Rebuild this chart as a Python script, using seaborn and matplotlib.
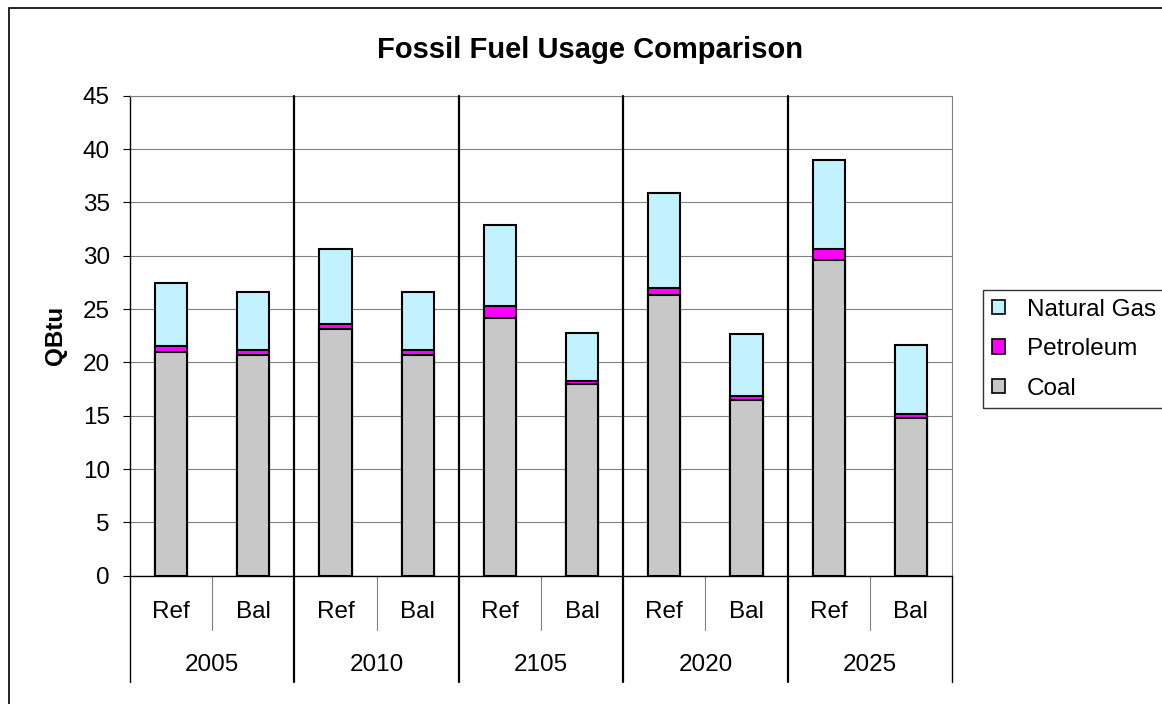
import matplotlib
matplotlib.use("Agg")
import matplotlib.pyplot as plt
import matplotlib.transforms as mtrans
from matplotlib.patches import Patch, Rectangle
import numpy as np
import pandas as pd
import seaborn as sns

# ---- data (QBtu) ----
years = ["2005", "2010", "2105", "2020", "2025"]
scenarios = ["Ref", "Bal"]
coal = [21.0, 20.7, 23.1, 20.7, 24.2, 17.95, 26.3, 16.45, 29.6, 14.75]
petroleum = [0.55, 0.45, 0.5, 0.45, 1.05, 0.35, 0.7, 0.4, 1.0, 0.4]
natural_gas = [5.85, 5.45, 7.0, 5.45, 7.65, 4.5, 8.9, 5.85, 8.4, 6.45]

series_names = ["Natural Gas", "Petroleum", "Coal"]
colors = {"Natural Gas": "#C2F2FF", "Petroleum": "#FF00FF", "Coal": "#C8C8C8"}

cats = [f"{y} {s}" for y in years for s in scenarios]
df = pd.DataFrame({
    "cat": cats,
    "coal": coal,
    "petroleum": petroleum,
    "natural_gas": natural_gas,
})
df["coal_pet"] = df["coal"] + df["petroleum"]
df["total"] = df["coal_pet"] + df["natural_gas"]

sns.set_theme(style="white")
plt.rcParams["font.family"] = ["Liberation Sans", "DejaVu Sans"]

W, H = 1162, 704
fig = plt.figure(figsize=(W / 100, H / 100), dpi=100)
fig.patch.set_facecolor("white")

x0, x1, ytop, ybot = 130, 952, 95.7, 575.7
ax = fig.add_axes([x0 / W, 1 - ybot / H, (x1 - x0) / W, (ybot - ytop) / H])

# stacked bars: draw cumulative heights from the top layer down
bar_kw = dict(order=cats, saturation=1, width=0.39, edgecolor="black",
              linewidth=1.5, errorbar=None, ax=ax)
sns.barplot(data=df, x="cat", y="total", color=colors["Natural Gas"], **bar_kw)
sns.barplot(data=df, x="cat", y="coal_pet", color=colors["Petroleum"], **bar_kw)
sns.barplot(data=df, x="cat", y="coal", color=colors["Coal"], **bar_kw)

ax.set_xlim(-0.5, len(cats) - 0.5)
ax.set_ylim(0, 45)
ax.set_yticks(np.arange(0, 46, 5))
ax.set_xticks([])
ax.set_xlabel("")
ax.set_ylabel("QBtu", fontsize=17.5, fontweight="bold", color="black")
ax.yaxis.set_label_coords(-0.077, 0.5)
ax.yaxis.grid(True, color="#808080", linewidth=0.8)
ax.set_axisbelow(True)
ax.tick_params(axis="y", left=True, length=5, width=0.8, color="black",
               direction="out", labelsize=17.5, pad=9.5, labelcolor="black")

for side in ["top", "right"]:
    ax.spines[side].set_visible(True)
    ax.spines[side].set_color("#808080")
    ax.spines[side].set_linewidth(0.8)
for side in ["left", "bottom"]:
    ax.spines[side].set_visible(True)
    ax.spines[side].set_color("black")
    ax.spines[side].set_linewidth(1.0)

blend = mtrans.blended_transform_factory(ax.transData, ax.transAxes)

# year group separators (through plot and category axis)
y_year_low = (ybot - 682) / (ybot - ytop)
y_scen_low = (ybot - 630) / (ybot - ytop)
for k in range(len(years) + 1):
    xs = 2 * k - 0.5
    top = 1.0 if 0 < k < len(years) else 0.0
    ax.plot([xs, xs], [y_year_low, top], transform=blend, color="black",
            lw=1.6 if 0 < k < len(years) else 1.0, clip_on=False, zorder=5)

# scenario separators inside each year group
for k in range(len(years)):
    xs = 2 * k + 0.5
    ax.plot([xs, xs], [y_scen_low, 0], transform=blend, color="#808080",
            lw=0.8, clip_on=False)

# two-level category labels
y_scen_lbl = (ybot - 612) / (ybot - ytop)
y_year_lbl = (ybot - 665) / (ybot - ytop)
for i, c in enumerate(cats):
    ax.text(i, y_scen_lbl, scenarios[i % 2], transform=blend, ha="center",
            va="center", fontsize=17.5, color="black")
for k, y in enumerate(years):
    ax.text(2 * k + 0.5, y_year_lbl, y, transform=blend, ha="center",
            va="center", fontsize=17.5, color="black")

fig.text(590 / W, 1 - 50 / H, "Fossil Fuel Usage Comparison", ha="center",
         va="center", fontsize=21, fontweight="bold", color="black")

# chart area border
fig.patches.append(Rectangle((8.5 / W, -0.1), 1.5, 1.1 - 7.5 / H,
                             transform=fig.transFigure, fill=False,
                             edgecolor="black", linewidth=1.2))

handles = [Patch(facecolor=colors[n], edgecolor="black", linewidth=1.2, label=n)
           for n in series_names]
leg = fig.legend(handles=handles, loc="upper left",
                 bbox_to_anchor=(983 / W, 1 - 290 / H), frameon=True,
                 fancybox=False, edgecolor="black", fontsize=17.5,
                 handlelength=0.55, handleheight=0.55, handletextpad=0.9,
                 labelspacing=0.72, borderpad=0.35, borderaxespad=0)
leg.get_frame().set_linewidth(1.0)
for t in leg.get_texts():
    t.set_color("black")

fig.savefig("out.png", dpi=100, facecolor="white")
